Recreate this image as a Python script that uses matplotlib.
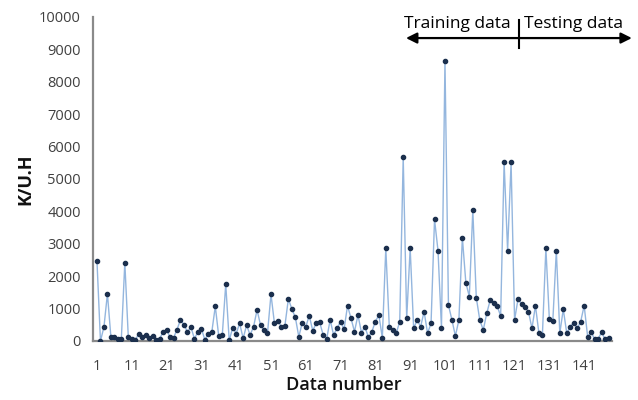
import matplotlib
matplotlib.use("Agg")
import matplotlib.pyplot as plt
import matplotlib.transforms as mtransforms

# K/U.H value for each data record, in order
values = [
    2460, 0, 430, 1460, 120, 120, 70, 70, 2420, 120,
    70, 20, 230, 120, 170, 100, 140, 20, 70, 280,
    350, 120, 100, 350, 660, 500, 280, 430, 70, 280,
    380, 40, 230, 280, 1070, 140, 170, 1750, 20, 410,
    230, 545, 80, 490, 185, 440, 960, 490, 340, 240,
    1440, 545, 620, 440, 470, 1300, 990, 730, 130, 570,
    440, 780, 320, 545, 575, 185, 60, 650, 185, 390,
    600, 360, 1090, 700, 290, 800, 260, 440, 110, 290,
    600, 800, 100, 2860, 440, 340, 240, 600, 5670, 700,
    2860, 390, 650, 440, 905, 240, 545, 3755, 2790, 390,
    8640, 1110, 650, 155, 650, 3190, 1800, 1370, 4040, 1340,
    650, 340, 850, 1265, 1180, 1080, 770, 5510, 2790, 5510,
    650, 1300, 1140, 1060, 905, 390, 1090, 240, 185, 2860,
    670, 630, 2790, 240, 980, 240, 440, 565, 390, 600,
    1090, 135, 270, 60, 60, 270, 60, 80,
]
data_number = list(range(1, len(values) + 1))

x_ticks = list(range(1, 142, 10))
y_ticks = list(range(0, 10001, 1000))

split_at = 122.3          # boundary between training and testing records
train_label = "Training data"
test_label = "Testing data"

plt.rcParams["font.family"] = ["Open Sans", "DejaVu Sans"]

fig = plt.figure(figsize=(6.38, 4.0), dpi=100)
ax = fig.add_axes([93.5 / 638, 59 / 400, 518.5 / 638, 324 / 400])

ax.plot(data_number, values, color="#94b6de", lw=1.0, zorder=2)
ax.plot(data_number, values, ls="none", marker="o", ms=3.0,
        mfc="#1b2f4d", mec="#1b2f4d", zorder=3)

ax.set_xlim(0, 149)
ax.set_ylim(0, 10000)
ax.set_xticks(x_ticks)
ax.set_xticklabels([str(t) for t in x_ticks])
ax.set_yticks(y_ticks)
ax.set_yticklabels([str(t) for t in y_ticks])
ax.tick_params(axis="both", length=0, labelsize=10.5, colors="#404040")
ax.tick_params(axis="x", pad=13)
ax.tick_params(axis="y", pad=9)

for side in ("top", "right"):
    ax.spines[side].set_visible(False)
for side in ("left", "bottom"):
    ax.spines[side].set_color("#8a8a8a")
    ax.spines[side].set_linewidth(1.6)

ax.text(0.483, -0.136, "Data number", transform=ax.transAxes,
        ha="center", va="center", fontsize=13, fontweight="semibold",
        color="#111111")
ax.text(-0.132, 0.5, "K/U.H", transform=ax.transAxes, rotation=90,
        ha="center", va="center", fontsize=13, fontweight="bold",
        color="#111111")

# Training / testing split annotation above the series
blend = mtransforms.blended_transform_factory(ax.transData, ax.transAxes)
arrow_y = 0.935
ax.annotate("", xy=(89.8, arrow_y), xytext=(split_at, arrow_y),
            xycoords=blend, textcoords=blend, annotation_clip=False,
            arrowprops=dict(arrowstyle="-|>", color="black", lw=1.6,
                            mutation_scale=16, shrinkA=0, shrinkB=0))
ax.annotate("", xy=(154.7, arrow_y), xytext=(split_at, arrow_y),
            xycoords=blend, textcoords=blend, annotation_clip=False,
            arrowprops=dict(arrowstyle="-|>", color="black", lw=1.6,
                            mutation_scale=16, shrinkA=0, shrinkB=0))
ax.plot([split_at, split_at], [0.904, 0.991], transform=blend,
        color="black", lw=1.5, clip_on=False)
ax.text(104.6, 0.978, train_label, transform=blend, ha="center",
        va="center", fontsize=12.5, fontweight="medium", color="black")
ax.text(138.0, 0.978, test_label, transform=blend, ha="center",
        va="center", fontsize=12.5, fontweight="medium", color="black")

fig.savefig("out.png", dpi=100)
